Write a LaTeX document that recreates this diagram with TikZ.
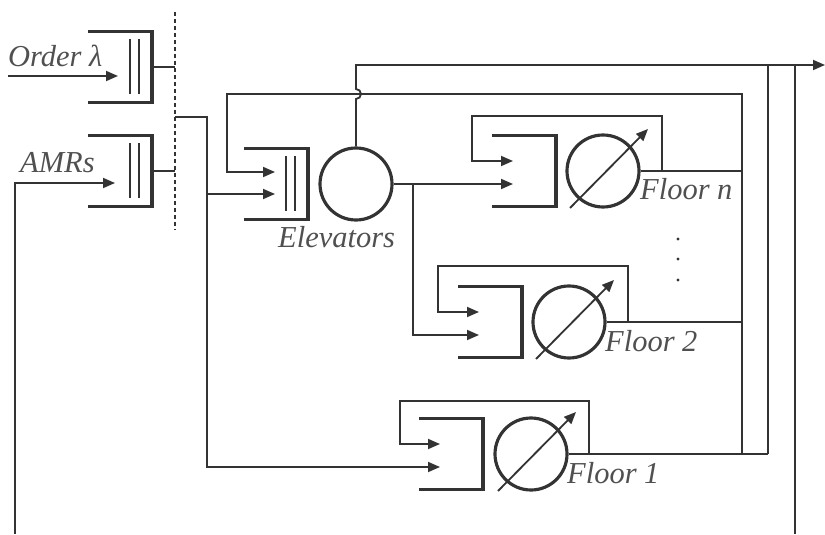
\documentclass[tikz,border=0pt]{standalone}
\usepackage{fontspec}
\setmainfont{Liberation Serif}[ItalicFont={Liberation Serif Italic}]
\usetikzlibrary{arrows.meta, calc}
\definecolor{lineDark}{HTML}{333333}
\definecolor{textGray}{HTML}{505050}

\begin{document}
\begin{tikzpicture}[x=0.3mm, y=0.3mm,
    queue/.style={minimum width=19.2mm, minimum height=21.3mm, inner sep=0pt, outer sep=0pt},
    qline/.style={line width=1.05mm, color=lineDark},
    bar/.style={line width=0.6mm, color=lineDark},
    serv/.style={circle, draw=lineDark, line width=0.95mm, minimum size=21.6mm, inner sep=0pt},
    wire/.style={line width=0.55mm, color=lineDark},
    fl/.style={-{Triangle[length=3.6mm, width=3mm]}, line width=0.55mm, color=lineDark},
    lbl/.style={font=\fontsize{26}{30}\selectfont\itshape, text=textGray, inner sep=0pt, anchor=base west}]
  \useasboundingbox (0,0) rectangle (825,534);
  % queues and servers
  \node[queue] (ordq)  at (120,467) {};
  \node[queue] (amrq)  at (120,363) {};
  \node[queue] (elevq) at (276,350) {};
  \node[queue] (qn)    at (524,363) {};
  \node[queue] (q2)    at (490,212) {};
  \node[queue] (q1)    at (451,80)  {};
  \node[serv] (elev) at (356,350) {};
  \node[serv] (fn)   at (603,363) {};
  \node[serv] (f2)   at (569,212) {};
  \node[serv] (f1)   at (531,80)  {};
  \foreach \q in {ordq, amrq, elevq, qn, q2, q1}
    \draw[qline] (\q.north west) -| (\q.south east) -- (\q.south west);
  \foreach \q in {ordq, amrq, elevq}
    \foreach \dx in {-22, -13}
      \draw[bar] ($(\q.north east)+(\dx,-8)$) -- ($(\q.south east)+(\dx,8)$);
  % input points
  \coordinate (ordq-in) at ($(ordq.east)+(-34,-9)$);
  \coordinate (amrq-in) at ($(amrq.east)+(-37,-12)$);
  \coordinate (elevq-a) at ($(elevq.east)+(-33,12)$);
  \coordinate (elevq-b) at ($(elevq.east)+(-33,-10)$);
  \coordinate (qn-a) at ($(qn.east)+(-43,10)$); \coordinate (qn-b) at ($(qn.east)+(-43,-13)$);
  \coordinate (q2-a) at ($(q2.east)+(-43,10)$); \coordinate (q2-b) at ($(q2.east)+(-43,-13)$);
  \coordinate (q1-a) at ($(q1.east)+(-43,10)$); \coordinate (q1-b) at ($(q1.east)+(-43,-13)$);
  % free ends and joints
  \coordinate (ordsrc) at (8,458);   \coordinate (amrsrc) at (15,0);
  \coordinate (bustop) at (175,522); \coordinate (busbot) at (175,304);
  \coordinate (disp)   at (175,417); \coordinate (split)  at (207,417);
  \coordinate (esplit) at (413,350);
  \coordinate (colA) at (742,440);   \coordinate (ret) at (227,440);
  \coordinate (colB) at (768,469);   \coordinate (colC) at (795,469);
  \coordinate (outend) at (825,469);
  % arrivals
  \draw[fl] (ordsrc) -- (ordq-in);
  \draw[fl] (amrsrc) |- (amrq-in);
  \draw[wire, line width=0.45mm, dash pattern=on 1.2mm off 0.9mm] (bustop) -- (busbot);
  \draw[wire] (ordq.east) -- (ordq.east -| bustop);
  \draw[wire] (amrq.east) -- (amrq.east -| bustop);
  \draw[fl] (disp) -- (split) |- (q1-b);
  \draw[fl] (split |- elevq-b) -- (elevq-b);
  % elevators
  \draw[fl] (colA |- f1.east) -- (colA) -- (ret) |- (elevq-a);
  \draw[fl] (elev.north) -- ($(elev.north |- colA)+(0,-5)$)
    arc[start angle=-90, end angle=90, radius=5] |- (outend);
  \draw[fl] (elev.east) -- (qn-b);
  \draw[fl] (esplit) |- (q2-b);
  % floors
  \draw[wire] (fn.east) -- (fn.east -| colA);
  \draw[wire] (f2.east) -- (f2.east -| colA);
  \draw[wire] (f1.east) -- (f1.east -| colB);
  \draw[wire] (colB |- f1.east) -- (colB);
  \draw[wire] (colC) -- (colC |- amrsrc);
  \draw[fl] ($(fn.center)+(59,0)$) |- ($(qn-a)+(-41,45)$) |- (qn-a);
  \draw[fl] ($(f2.center)+(59,0)$) |- ($(q2-a)+(-41,46)$) |- (q2-a);
  \draw[fl] ($(f1.center)+(58,0)$) |- ($(q1-a)+(-40,43)$) |- (q1-a);
  \draw[fl] ($(fn.center)+(-33,-37)$) -- ($(fn.center)+(45,42)$);
  \draw[fl] ($(f2.center)+(-33,-37)$) -- ($(f2.center)+(45,42)$);
  \draw[fl] ($(f1.center)+(-33,-37)$) -- ($(f1.center)+(45,42)$);
  \fill[lineDark] (678,295) circle (1.6) (678,275) circle (1.6) (678,254) circle (1.6);
  % labels
  \node[lbl] (ordlab)  at (8,467)   {Order λ};
  \node[lbl] (amrlab)  at (20,361)  {AMRs};
  \node[lbl] (elevlab) at (278,286) {Elevators};
  \node[lbl] (fnlab) at ($(fn.center)+(37,-29)$) {Floor n};
  \node[lbl] (f2lab) at ($(f2.center)+(36,-29)$) {Floor 2};
  \node[lbl] (f1lab) at ($(f1.center)+(36,-29)$) {Floor 1};
\end{tikzpicture}
\end{document}
